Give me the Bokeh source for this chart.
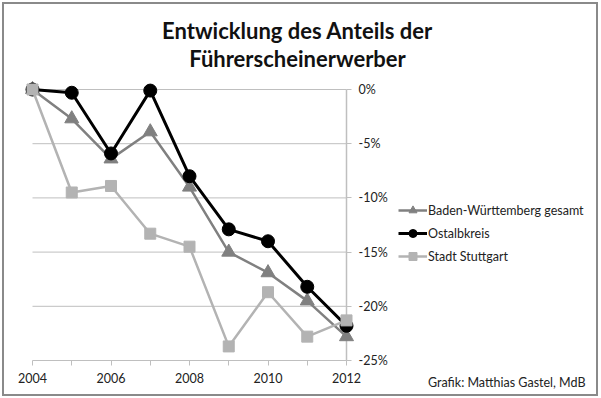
from bokeh.plotting import figure
from bokeh.models import (Range1d, FixedTicker, Legend, LegendItem, Label,
                          ColumnDataSource)
from bokeh.embed import file_html
from bokeh.resources import INLINE

years = [2004, 2005, 2006, 2007, 2008, 2009, 2010, 2011, 2012]
bw = [0.0, -2.7, -6.4, -3.9, -9.0, -15.0, -16.9, -19.5, -22.8]
ostalb = [0.0, -0.3, -5.9, -0.1, -8.0, -12.9, -14.0, -18.2, -21.8]
stuttgart = [0.0, -9.5, -8.9, -13.3, -14.5, -23.7, -18.7, -22.8, -21.3]
y_ticks = [0, -5, -10, -15, -20, -25]
x_labels = {2004: "2004", 2005: "", 2006: "2006", 2007: "", 2008: "2008",
            2009: "", 2010: "2010", 2011: "", 2012: "2012"}
y_labels = {0: "0%", -5: "-5%", -10: "-10%", -15: "-15%", -20: "-20%", -25: "-25%"}
names = ["Baden-Württemberg gesamt", "Ostalbkreis", "Stadt Stuttgart"]
title1 = "Entwicklung des Anteils der"
title2 = "Führerscheinerwerber"
credit = "Grafik: Matthias Gastel, MdB"

FONT = "Lato"
GRID = "#bfbfbf"
TXT = "#222222"
FS = "12.5px"

# canvas geometry (pixels) -> ranges
W, H = 592, 390
X0_PX, X1_PX = 28, 342      # pixel of first / last year
Y0_PX, Y1_PX = 85, 356      # pixel of top / bottom tick
xs = (X1_PX - X0_PX) / (years[-1] - years[0])
ys = (Y1_PX - Y0_PX) / (max(y_ticks) - min(y_ticks))
x_range = Range1d(years[0] - X0_PX / xs, years[-1] + (W - X1_PX) / xs)
y_range = Range1d(min(y_ticks) - (H - Y1_PX) / ys, max(y_ticks) + Y0_PX / ys)

p = figure(width=W, height=H, output_backend="svg", toolbar_location=None,
           x_range=x_range, y_range=y_range, y_axis_location="right",
           min_border_left=0, min_border_right=0, min_border_top=0,
           min_border_bottom=0, title=None)
p.outline_line_color = None
p.xgrid.visible = False
p.ygrid.visible = False
p.styles = {"margin": "4px", "outline": "2px solid #8a8a8a", "outline-offset": "0px"}

# gridlines spanning first..last year
p.segment(x0=[years[0]] * len(y_ticks), x1=[years[-1]] * len(y_ticks),
          y0=y_ticks, y1=y_ticks, line_color=GRID, line_width=1)
# vertical axis line at last year
p.segment(x0=[years[-1]], x1=[years[-1]], y0=[min(y_ticks)], y1=[max(y_ticks)],
          line_color=GRID, line_width=1.5)

xa = p.xaxis[0]
xa.fixed_location = min(y_ticks)
xa.ticker = FixedTicker(ticks=years)
xa.major_label_overrides = x_labels
xa.axis_line_color = None
xa.major_tick_line_color = GRID
xa.major_tick_in = 0
xa.major_tick_out = 5
xa.minor_tick_line_color = None
xa.major_label_standoff = 7
xa.major_label_text_font = FONT
xa.major_label_text_font_size = FS
xa.major_label_text_color = TXT

ya = p.yaxis[0]
ya.fixed_location = years[-1]
ya.ticker = FixedTicker(ticks=y_ticks)
ya.major_label_overrides = y_labels
ya.axis_line_color = None
ya.major_tick_line_color = GRID
ya.major_tick_in = 0
ya.major_tick_out = 5
ya.minor_tick_line_color = None
ya.major_label_standoff = 7
ya.major_label_text_font = FONT
ya.major_label_text_font_size = FS
ya.major_label_text_color = TXT

series = [
    (bw, "#808080", 2.5, "triangle", 14),
    (ostalb, "#000000", 3, "circle", 13),
    (stuttgart, "#b3b3b3", 2.5, "square", 11),
]
items = []
for (vals, col, lw, marker, size), name in zip(series, names):
    src = ColumnDataSource(dict(x=years, y=vals))
    r1 = p.line("x", "y", source=src, line_color=col, line_width=lw)
    r2 = p.scatter("x", "y", source=src, marker=marker, size=size,
                   fill_color=col, line_color=col)
    items.append(LegendItem(label=name, renderers=[r1, r2]))

legend = Legend(items=items, location=(394, 128), orientation="vertical",
                glyph_width=29, glyph_height=20, label_height=20, spacing=3,
                padding=0, margin=0, label_standoff=1,
                label_text_font=FONT, label_text_font_size=FS,
                label_text_color=TXT,
                border_line_color=None, background_fill_alpha=0)
p.add_layout(legend, "center")

for txt, yy in [(title1, 364), (title2, 336)]:
    p.add_layout(Label(x=293, y=yy, x_units="screen", y_units="screen", text=txt,
                       text_align="center", text_baseline="alphabetic",
                       text_font=FONT, text_font_size="22px",
                       text_font_style="bold", text_color="#111111"))

p.add_layout(Label(x=581, y=12, x_units="screen", y_units="screen", text=credit,
                   text_align="right", text_baseline="middle", text_font=FONT,
                   text_font_size=FS, text_color=TXT))

open("out.html", "w").write(file_html(p, INLINE))
